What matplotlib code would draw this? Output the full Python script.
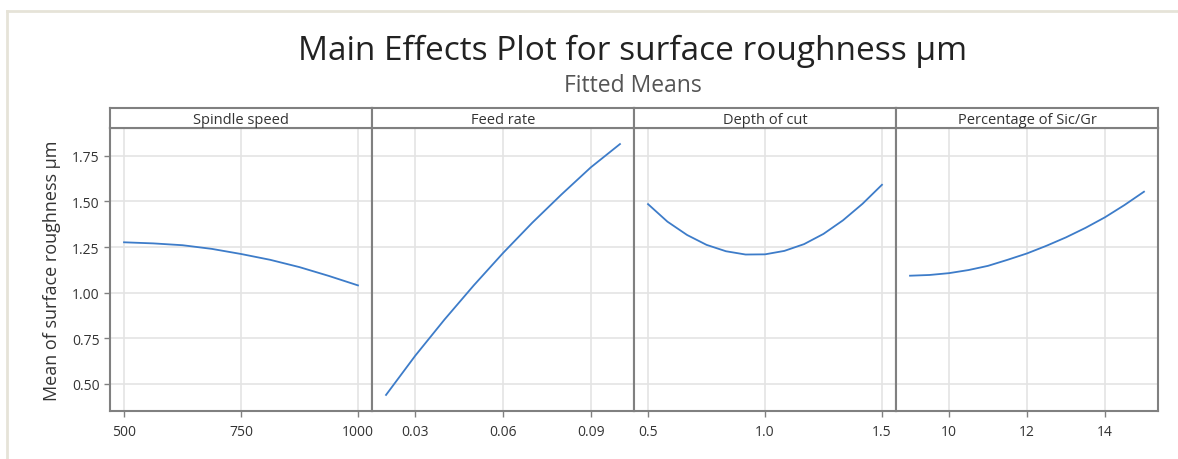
import matplotlib
matplotlib.use("Agg")
import matplotlib.pyplot as plt
from matplotlib.lines import Line2D

# fitted means
factors = ["Spindle speed", "Feed rate", "Depth of cut", "Percentage of Sic/Gr"]

speed_x = [500, 562.5, 625, 687.5, 750, 812.5, 875, 937.5, 1000]
speed_y = [1.276, 1.270, 1.260, 1.240, 1.212, 1.180, 1.140, 1.092, 1.040]

feed_x = [0.02, 0.03, 0.04, 0.05, 0.06, 0.07, 0.08, 0.09, 0.10]
feed_y = [0.44, 0.655, 0.853, 1.040, 1.217, 1.383, 1.538, 1.686, 1.814]

depth_x = [0.5, 0.583, 0.667, 0.75, 0.833, 0.917, 1.0,
           1.083, 1.167, 1.25, 1.333, 1.417, 1.5]
depth_y = [1.485, 1.389, 1.316, 1.262, 1.227, 1.209, 1.210,
           1.229, 1.266, 1.322, 1.396, 1.487, 1.591]

perc_x = [9, 9.5, 10, 10.5, 11, 11.5, 12, 12.5, 13, 13.5, 14, 14.5, 15]
perc_y = [1.093, 1.097, 1.107, 1.124, 1.147, 1.180, 1.215,
          1.257, 1.303, 1.355, 1.413, 1.480, 1.553]

xs = [speed_x, feed_x, depth_x, perc_x]
ys = [speed_y, feed_y, depth_y, perc_y]
xticks = [[500, 750, 1000], [0.03, 0.06, 0.09], [0.5, 1.0, 1.5], [10, 12, 14]]
xticklabels = [["500", "750", "1000"], ["0.03", "0.06", "0.09"],
               ["0.5", "1.0", "1.5"], ["10", "12", "14"]]
yticks = [0.50, 0.75, 1.00, 1.25, 1.50, 1.75]

plt.rcParams['font.family'] = ['Open Sans', 'DejaVu Sans']

line_col = '#3d7cc9'
spine_col = '#808080'
grid_col = '#e4e4e4'
text_col = '#333333'

fig = plt.figure(figsize=(11.78, 4.6), dpi=100)

left, right = 110 / 1178, 1158 / 1178
bottom, top, strip_top = 1 - 412 / 460, 1 - 129 / 460, 1 - 109 / 460
w = (right - left) / 4

for i in range(4):
    ax = fig.add_axes([left + i * w, bottom, w, top - bottom])
    sax = fig.add_axes([left + i * w, top, w, strip_top - top])

    ax.plot(xs[i], ys[i], color=line_col, lw=1.3)
    span = xs[i][-1] - xs[i][0]
    ax.set_xlim(xs[i][0] - 0.06 * span, xs[i][-1] + 0.06 * span)
    ax.set_ylim(0.352, 1.902)
    ax.set_xticks(xticks[i])
    ax.set_xticklabels(xticklabels[i])
    ax.set_yticks(yticks)
    ax.grid(True, color=grid_col, lw=1.2)
    ax.set_axisbelow(True)
    ax.tick_params(axis='x', direction='out', length=4, width=1,
                   color=spine_col, labelsize=10, labelcolor=text_col, pad=5)
    if i == 0:
        ax.set_yticklabels(["%.2f" % v for v in yticks])
        ax.tick_params(axis='y', direction='out', length=4, width=1,
                       color=spine_col, labelsize=10, labelcolor=text_col)
        ax.set_ylabel("Mean of surface roughness µm", fontsize=13,
                      color=text_col, labelpad=8)
    else:
        ax.tick_params(axis='y', length=0, labelleft=False)
    for s in ax.spines.values():
        s.set_color(spine_col)
        s.set_linewidth(1.5)

    sax.set_xticks([])
    sax.set_yticks([])
    for s in sax.spines.values():
        s.set_color(spine_col)
        s.set_linewidth(1.5)
    sax.text(0.5, 0.45, factors[i], ha='center', va='center',
             fontsize=10.5, color=text_col, transform=sax.transAxes)

fig.text(0.537, 0.888, "Main Effects Plot for surface roughness µm",
         ha='center', va='center', fontsize=24, color='#222222')
fig.text(0.537, 0.812, "Fitted Means", ha='center', va='center',
         fontsize=16.5, color='#555555')

# light screenshot frame
fig.add_artist(Line2D([0.006, 0.006], [0, 0.975], color='#e6e3d8', lw=2))
fig.add_artist(Line2D([0.006, 1], [0.975, 0.975], color='#e6e3d8', lw=2))

fig.savefig("out.png", dpi=100)
